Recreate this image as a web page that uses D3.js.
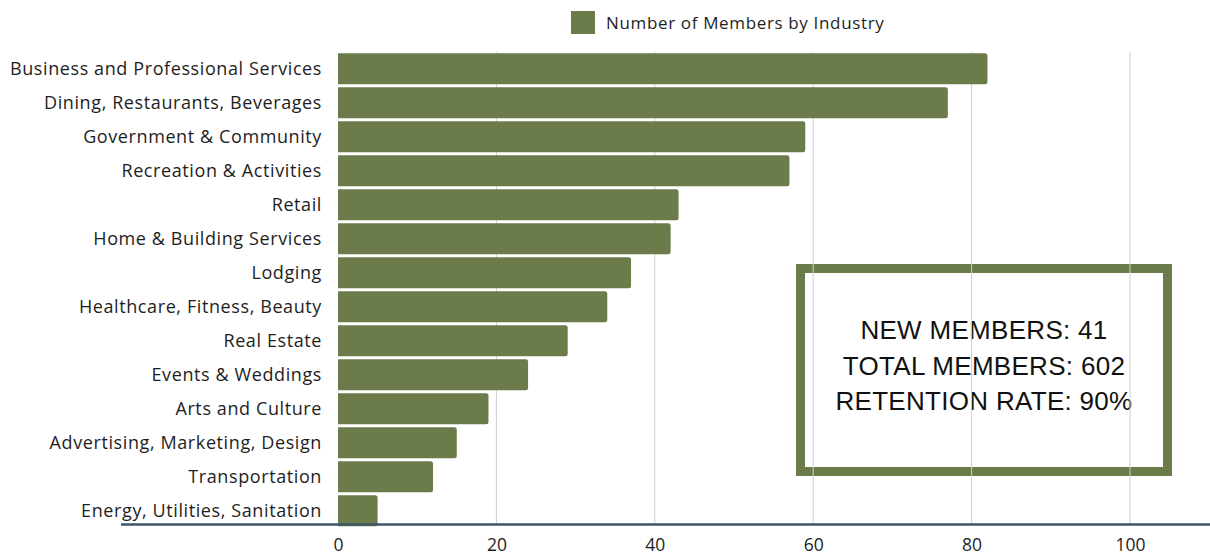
<!DOCTYPE html>
<html>
<head>
<meta charset="utf-8">
<script src="https://cdn.jsdelivr.net/npm/d3@7"></script>
<style>
  body { margin: 0; background: #ffffff; }
  svg { display: block; }
</style>
</head>
<body>
<div id="chart"></div>
<script>
// data
var industries = [
  "Business and Professional Services",
  "Dining, Restaurants, Beverages",
  "Government & Community",
  "Recreation & Activities",
  "Retail",
  "Home & Building Services",
  "Lodging",
  "Healthcare, Fitness, Beauty",
  "Real Estate",
  "Events & Weddings",
  "Arts and Culture",
  "Advertising, Marketing, Design",
  "Transportation",
  "Energy, Utilities, Sanitation"
];
var members = [82, 77, 59, 57, 43, 42, 37, 34, 29, 24, 19, 15, 12, 5];
var xTicks = [0, 20, 40, 60, 80, 100];
var seriesName = "Number of Members by Industry";
var summaryLines = ["NEW MEMBERS: 41", "TOTAL MEMBERS: 602", "RETENTION RATE: 90%"];

var width = 1210;
var height = 556;
var green = "#6b7b4a";
var labelFont = "'Open Sans', 'Noto Sans', sans-serif";

var svg = d3.select("#chart").append("svg")
            .attr("width", width)
            .attr("height", height);

var xScale = d3.scaleLinear()
               .domain([0, 100])
               .range([338, 1130]);

var yScale = d3.scaleBand()
               .domain(industries)
               .range([51.8, 527.8])
               .paddingInner(0.09)
               .paddingOuter(0.045);

// summary box (drawn first, gridlines show through it)
var box = { x: 800.5, y: 268.5, w: 367, h: 203 };
svg.append("rect")
   .attr("class", "summary-box")
   .attr("x", box.x)
   .attr("y", box.y)
   .attr("width", box.w)
   .attr("height", box.h)
   .attr("fill", "none")
   .attr("stroke", green)
   .attr("stroke-width", 9);

svg.append("g")
   .attr("class", "summary-text")
   .selectAll("text")
   .data(summaryLines)
   .enter().append("text")
   .attr("x", box.x + box.w / 2)
   .attr("y", function(d, i) { return 339 + i * 35.5; })
   .attr("text-anchor", "middle")
   .style("font-family", "'Liberation Sans', Arial, sans-serif")
   .style("font-size", "26px")
   .style("letter-spacing", "0.3px")
   .style("fill", "#111")
   .text(function(d) { return d; });

// vertical gridlines
svg.append("g")
   .attr("class", "grid")
   .selectAll("line")
   .data(xTicks.slice(1))
   .enter().append("line")
   .attr("x1", function(d) { return xScale(d); })
   .attr("x2", function(d) { return xScale(d); })
   .attr("y1", 52)
   .attr("y2", 525)
   .attr("stroke", "#cfcfcf")
   .attr("stroke-width", 1);

// bars with rounded right end
var r = 2.5;
function barPath(d, i) {
  var x0 = xScale(0);
  var x1 = xScale(d);
  var y0 = yScale(industries[i]);
  var h = yScale.bandwidth();
  return "M" + x0 + "," + y0 +
         "H" + (x1 - r) +
         "Q" + x1 + "," + y0 + " " + x1 + "," + (y0 + r) +
         "V" + (y0 + h - r) +
         "Q" + x1 + "," + (y0 + h) + " " + (x1 - r) + "," + (y0 + h) +
         "H" + x0 + "Z";
}

svg.append("g")
   .attr("class", "bars")
   .selectAll("path")
   .data(members)
   .enter().append("path")
   .attr("d", barPath)
   .attr("fill", green);

// category labels
svg.append("g")
   .attr("class", "y_labels")
   .selectAll("text")
   .data(industries)
   .enter().append("text")
   .attr("x", 322)
   .attr("y", function(d) { return yScale(d) + yScale.bandwidth() / 2; })
   .attr("dy", "0.36em")
   .attr("text-anchor", "end")
   .style("font-family", labelFont)
   .style("font-size", "18px")
   .style("letter-spacing", "0.6px")
   .style("fill", "#1e1e1e")
   .text(function(d) { return d; });

// x axis: long baseline + tick labels
svg.append("line")
   .attr("class", "x_baseline")
   .attr("x1", 121)
   .attr("x2", width)
   .attr("y1", 524.5)
   .attr("y2", 524.5)
   .attr("stroke", "#3b5667")
   .attr("stroke-width", 2.5);

var xAxis = d3.axisBottom(xScale)
              .tickValues(xTicks)
              .tickSize(0)
              .tickPadding(12);

var gx = svg.append("g")
            .attr("class", "x_axis")
            .attr("transform", "translate(0, 527)")
            .call(xAxis);
gx.select(".domain").remove();
gx.selectAll("text")
  .style("font-family", labelFont)
  .style("font-size", "17.5px")
  .style("fill", "#1e1e1e");

// legend
var legend = svg.append("g").attr("class", "legend");
legend.append("rect")
      .attr("x", 571)
      .attr("y", 11)
      .attr("width", 24)
      .attr("height", 23)
      .attr("fill", green);
legend.append("text")
      .attr("x", 606)
      .attr("y", 22.5)
      .attr("dy", "0.36em")
      .style("font-family", labelFont)
      .style("font-size", "17px")
      .style("letter-spacing", "0.65px")
      .style("fill", "#1e1e1e")
      .text(seriesName);
</script>
</body>
</html>
